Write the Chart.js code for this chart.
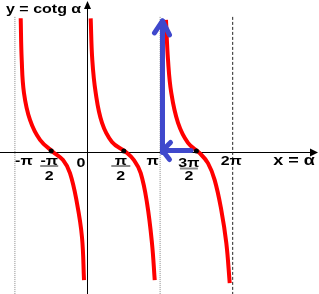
<!DOCTYPE html>
<html><head><meta charset="utf-8">
<script src="https://cdn.jsdelivr.net/npm/chart.js@4"></script>
<style>html,body{margin:0;padding:0;background:#fff;}canvas{display:block;}</style>
</head><body>
<canvas id="c" width="319" height="294"></canvas>
<script>
// x values are in multiples of π, y values in plot units
const branch1X = [-0.920,-0.906,-0.875,-0.792,-0.654,-0.475,-0.337,-0.241,-0.145,-0.076,-0.048];
const branch1Y = [6.71,4.63,2.98,1.63,0.63,0.03,-0.38,-1.03,-2.53,-4.23,-6.38];
const branch2X = [0.044,0.066,0.113,0.200,0.337,0.526,0.640,0.733,0.820,0.888,0.926];
const branch2Y = [6.71,4.63,2.98,1.48,0.53,0.03,-0.38,-1.03,-2.53,-4.53,-6.38];
const branch3X = [1.081,1.109,1.154,1.247,1.384,1.545,1.659,1.752,1.843,1.912,1.959];
const branch3Y = [6.63,4.63,2.98,1.48,0.48,-0.03,-0.53,-1.38,-2.88,-4.53,-6.53];
const asymptoteX = [-1, 1, 2];
const asymptoteTop = 6.78;
const asymptoteBottom = -7.1;
const arrowVerticalX = 1.033;
const arrowVerticalY = [0, 6.58];
const arrowHorizontalY = 0.1;
const arrowHorizontalX = [1.426, 1.033];
const tickValues = [-1, -0.5, 0, 0.5, 1, 1.5, 2];
const tickLabels = ['-π', '-π/2', '0', 'π/2', 'π', '3π/2', '2π'];
const dotValues = [-0.5, 0.5, 1.5];
const titleText = 'y = cotg α';
const xAxisLabel = 'x = α';

const pts = (xs, ys) => xs.map((x, i) => ({x, y: ys[i]}));
const RED = '#ff0000', BLUE = '#3f48cc';
const FONT = '"Liberation Sans", Arial, sans-serif';

const curve = (xs, ys) => ({data: pts(xs, ys), borderColor: RED, borderWidth: 4, showLine: true,
  pointRadius: 0, tension: 0.4, fill: false, order: 2});
const asym = (x, color, dash) => ({data: [{x, y: asymptoteTop}, {x, y: asymptoteBottom}],
  borderColor: color, borderWidth: 1, borderDash: dash, showLine: true, pointRadius: 0, order: 3});

function txt(ctx, s, cx, base, size, sy, align) {
  ctx.save();
  ctx.font = 'bold ' + size + 'px ' + FONT;
  ctx.textAlign = align || 'center';
  ctx.textBaseline = 'alphabetic';
  ctx.fillStyle = '#000';
  ctx.translate(cx, base);
  ctx.scale(1, sy);
  ctx.fillText(s, 0, 0);
  ctx.restore();
}

const labelStyle = {
  '-π':   {dx: 9,    base: 164.5},
  '-π/2': {dx: -2,   num: '-π', nb: 164.5, bar: 165, bw: 18, db: 180},
  '0':    {dx: -6.5, base: 167},
  'π/2':  {dx: -3,   num: 'π',  nb: 164.5, bar: 165, bw: 19, db: 180},
  'π':    {dx: -7.5, base: 164.5},
  '3π/2': {dx: -7.5, num: '3π', nb: 167,   bar: 167.5, bw: 18, db: 180},
  '2π':   {dx: -1.5, base: 165}
};

const axesPlugin = {
  id: 'axes',
  beforeDatasetsDraw(chart) {
    const {ctx, scales: {x, y}} = chart;
    const x0 = Math.round(x.getPixelForValue(0)) - 0.5;
    const y0 = Math.round(y.getPixelForValue(0)) - 0.5;
    ctx.save();
    ctx.strokeStyle = '#000'; ctx.lineWidth = 1;
    ctx.beginPath();
    ctx.moveTo(x0, 6); ctx.lineTo(x0, chart.height);
    ctx.moveTo(0, y0); ctx.lineTo(chart.width - 6, y0);
    ctx.stroke();
    ctx.fillStyle = '#000';
    ctx.beginPath(); ctx.moveTo(x0, 1); ctx.lineTo(x0 - 3.5, 9); ctx.lineTo(x0 + 3.5, 9); ctx.closePath(); ctx.fill();
    ctx.beginPath(); ctx.moveTo(chart.width - 1, y0); ctx.lineTo(chart.width - 9, y0 - 4); ctx.lineTo(chart.width - 9, y0 + 4); ctx.closePath(); ctx.fill();
    ctx.restore();
  },
  afterDatasetsDraw(chart) {
    const {ctx, scales: {x, y}} = chart;
    const y0 = y.getPixelForValue(0);
    ctx.save();
    ctx.fillStyle = '#000';
    dotValues.forEach(v => {
      ctx.beginPath(); ctx.arc(x.getPixelForValue(v), y0 - 1.5, 2.5, 0, Math.PI * 2); ctx.fill();
    });
    ctx.strokeStyle = BLUE; ctx.lineWidth = 5; ctx.lineCap = 'round'; ctx.lineJoin = 'round';
    const tx = x.getPixelForValue(arrowVerticalX), ty = y.getPixelForValue(arrowVerticalY[1]);
    ctx.beginPath(); ctx.moveTo(tx - 8, ty + 12); ctx.lineTo(tx, ty); ctx.lineTo(tx + 7, ty + 14); ctx.stroke();
    const lx = x.getPixelForValue(arrowHorizontalX[1]), ly = y.getPixelForValue(arrowHorizontalY);
    ctx.beginPath(); ctx.moveTo(lx + 8, ly - 8); ctx.lineTo(lx, ly); ctx.lineTo(lx + 7, ly + 9); ctx.stroke();
    tickValues.forEach((v, i) => {
      const lab = tickLabels[i], st = labelStyle[lab];
      const cx = x.getPixelForValue(v) + st.dx;
      if (st.num) {
        txt(ctx, st.num, cx, st.nb, 16, 0.75);
        ctx.fillStyle = '#8c8c8c';
        ctx.fillRect(cx - st.bw / 2, st.bar, st.bw, 2);
        txt(ctx, '2', cx, st.db, 16, 0.75);
      } else {
        txt(ctx, lab, cx, st.base, 16, 0.75);
      }
    });
    txt(ctx, titleText, 6, 12.5, 16, 0.85, 'left');
    txt(ctx, xAxisLabel, 294, 165, 18, 0.85);
    ctx.restore();
  }
};

new Chart(document.getElementById('c'), {
  type: 'scatter',
  data: {
    datasets: [
      asym(asymptoteX[0], '#8a8a8a', [1, 1]),
      asym(asymptoteX[1], '#8a8a8a', [1, 1]),
      asym(asymptoteX[2], '#222', [3, 2]),
      curve(branch1X, branch1Y),
      curve(branch2X, branch2Y),
      curve(branch3X, branch3Y),
      {data: arrowVerticalY.map(v => ({x: arrowVerticalX, y: v})), borderColor: BLUE, borderWidth: 5,
       borderCapStyle: 'round', showLine: true, pointRadius: 0, order: 1},
      {data: arrowHorizontalX.map(v => ({x: v, y: arrowHorizontalY})), borderColor: BLUE, borderWidth: 5,
       borderCapStyle: 'round', showLine: true, pointRadius: 0, order: 1}
    ]
  },
  options: {
    responsive: false, animation: false, devicePixelRatio: 1,
    layout: {padding: 0},
    plugins: {legend: {display: false}, tooltip: {enabled: false}, title: {display: false}},
    scales: {
      x: {type: 'linear', display: false, min: -87.5 / 72.6, max: (319 - 87.5) / 72.6},
      y: {type: 'linear', display: false, min: -(294 - 152.5) / 20, max: 152.5 / 20}
    }
  },
  plugins: [axesPlugin]
});
</script>
</body></html>
